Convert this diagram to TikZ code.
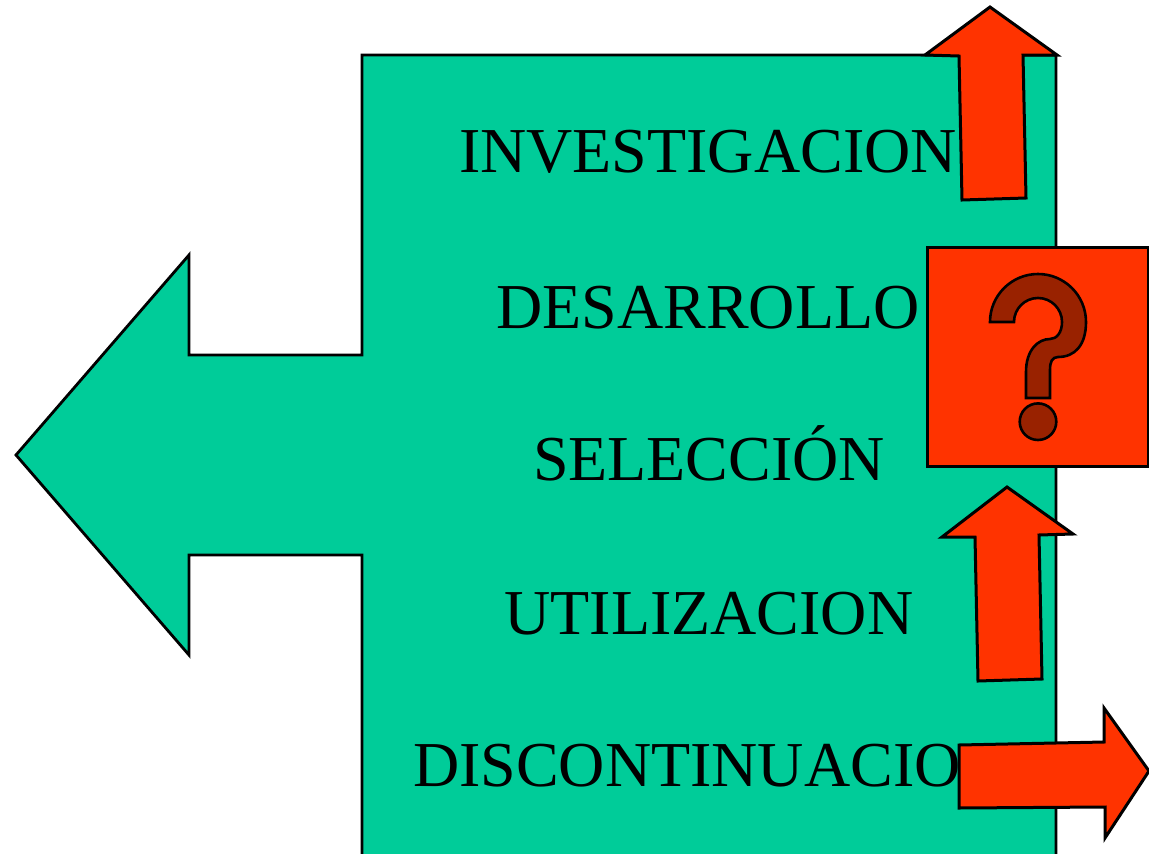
\documentclass[tikz,border=0pt]{standalone}
\usepackage{fontspec}
\setmainfont{Liberation Serif}
\definecolor{teal1}{RGB}{0,204,153}
\definecolor{red1}{RGB}{255,51,0}
\definecolor{qdark}{RGB}{153,34,0}
\tikzset{
  greenshape/.style={fill=teal1,draw=black,line width=2.8pt,line join=miter},
  redshape/.style={fill=red1,draw=black,line width=3pt,line join=miter},
  qmark/.style={fill=qdark,draw=black,line width=2.6pt},
  label/.style={anchor=base,font=\fontsize{64}{70}\selectfont,inner sep=0pt}
}
\begin{document}
\begin{tikzpicture}[x=1pt,y=1pt]
\clip (0,0) rectangle (1149,-854);
\fill[white] (0,0) rectangle (1149,-854);
% green body with left arrow
\path[greenshape] (362,-55) -- (1056,-55) -- (1056,-870) -- (362,-870) -- (362,-555)
  -- (189,-555) -- (189,-655) -- (16,-455) -- (189,-255) -- (189,-355) -- (362,-355) -- cycle;
% texts
\node[label] (t1) at (708,-172) {INVESTIGACION};
\node[label] (t2) at (708,-328) {DESARROLLO};
\node[label] (t3) at (709,-480) {SELECCIÓN};
\node[label] (t4) at (709,-634) {UTILIZACION};
\node[label] (t5) at (710,-786) {DISCONTINUACION};
% top arrow
\path[redshape] (990,-7) -- (1057,-55) -- (1023,-55) -- (1026,-198) -- (962,-200)
  -- (959,-56) -- (925,-55) -- cycle;
% middle arrow
\path[redshape] (1007,-487) -- (1073,-534) -- (1039,-535) -- (1042,-679) -- (978,-681)
  -- (975,-537) -- (942,-537) -- cycle;
% right arrow
\path[redshape] (1149,-771) -- (1105,-838) -- (1105,-807) -- (959,-808) -- (959,-745)
  -- (1104,-742) -- (1104,-708) -- cycle;
% question box
\path[redshape] (927,-247) rectangle (1148,-466);
\path[qmark] (990,-322) arc[start angle=180,end angle=0,radius=48]
  .. controls (1086,-345) and (1075,-357) .. (1058,-357)
  .. controls (1052,-357) and (1050,-362) .. (1050,-370)
  -- (1050,-398) -- (1026,-398) -- (1026,-372)
  .. controls (1026,-350) and (1038,-339) .. (1050,-339)
  .. controls (1057,-339) and (1062,-332) .. (1062,-322)
  arc[start angle=0,end angle=180,radius=24] -- cycle;
\path[qmark] (1038,-421.7) circle[radius=18.3];
\end{tikzpicture}
\end{document}
